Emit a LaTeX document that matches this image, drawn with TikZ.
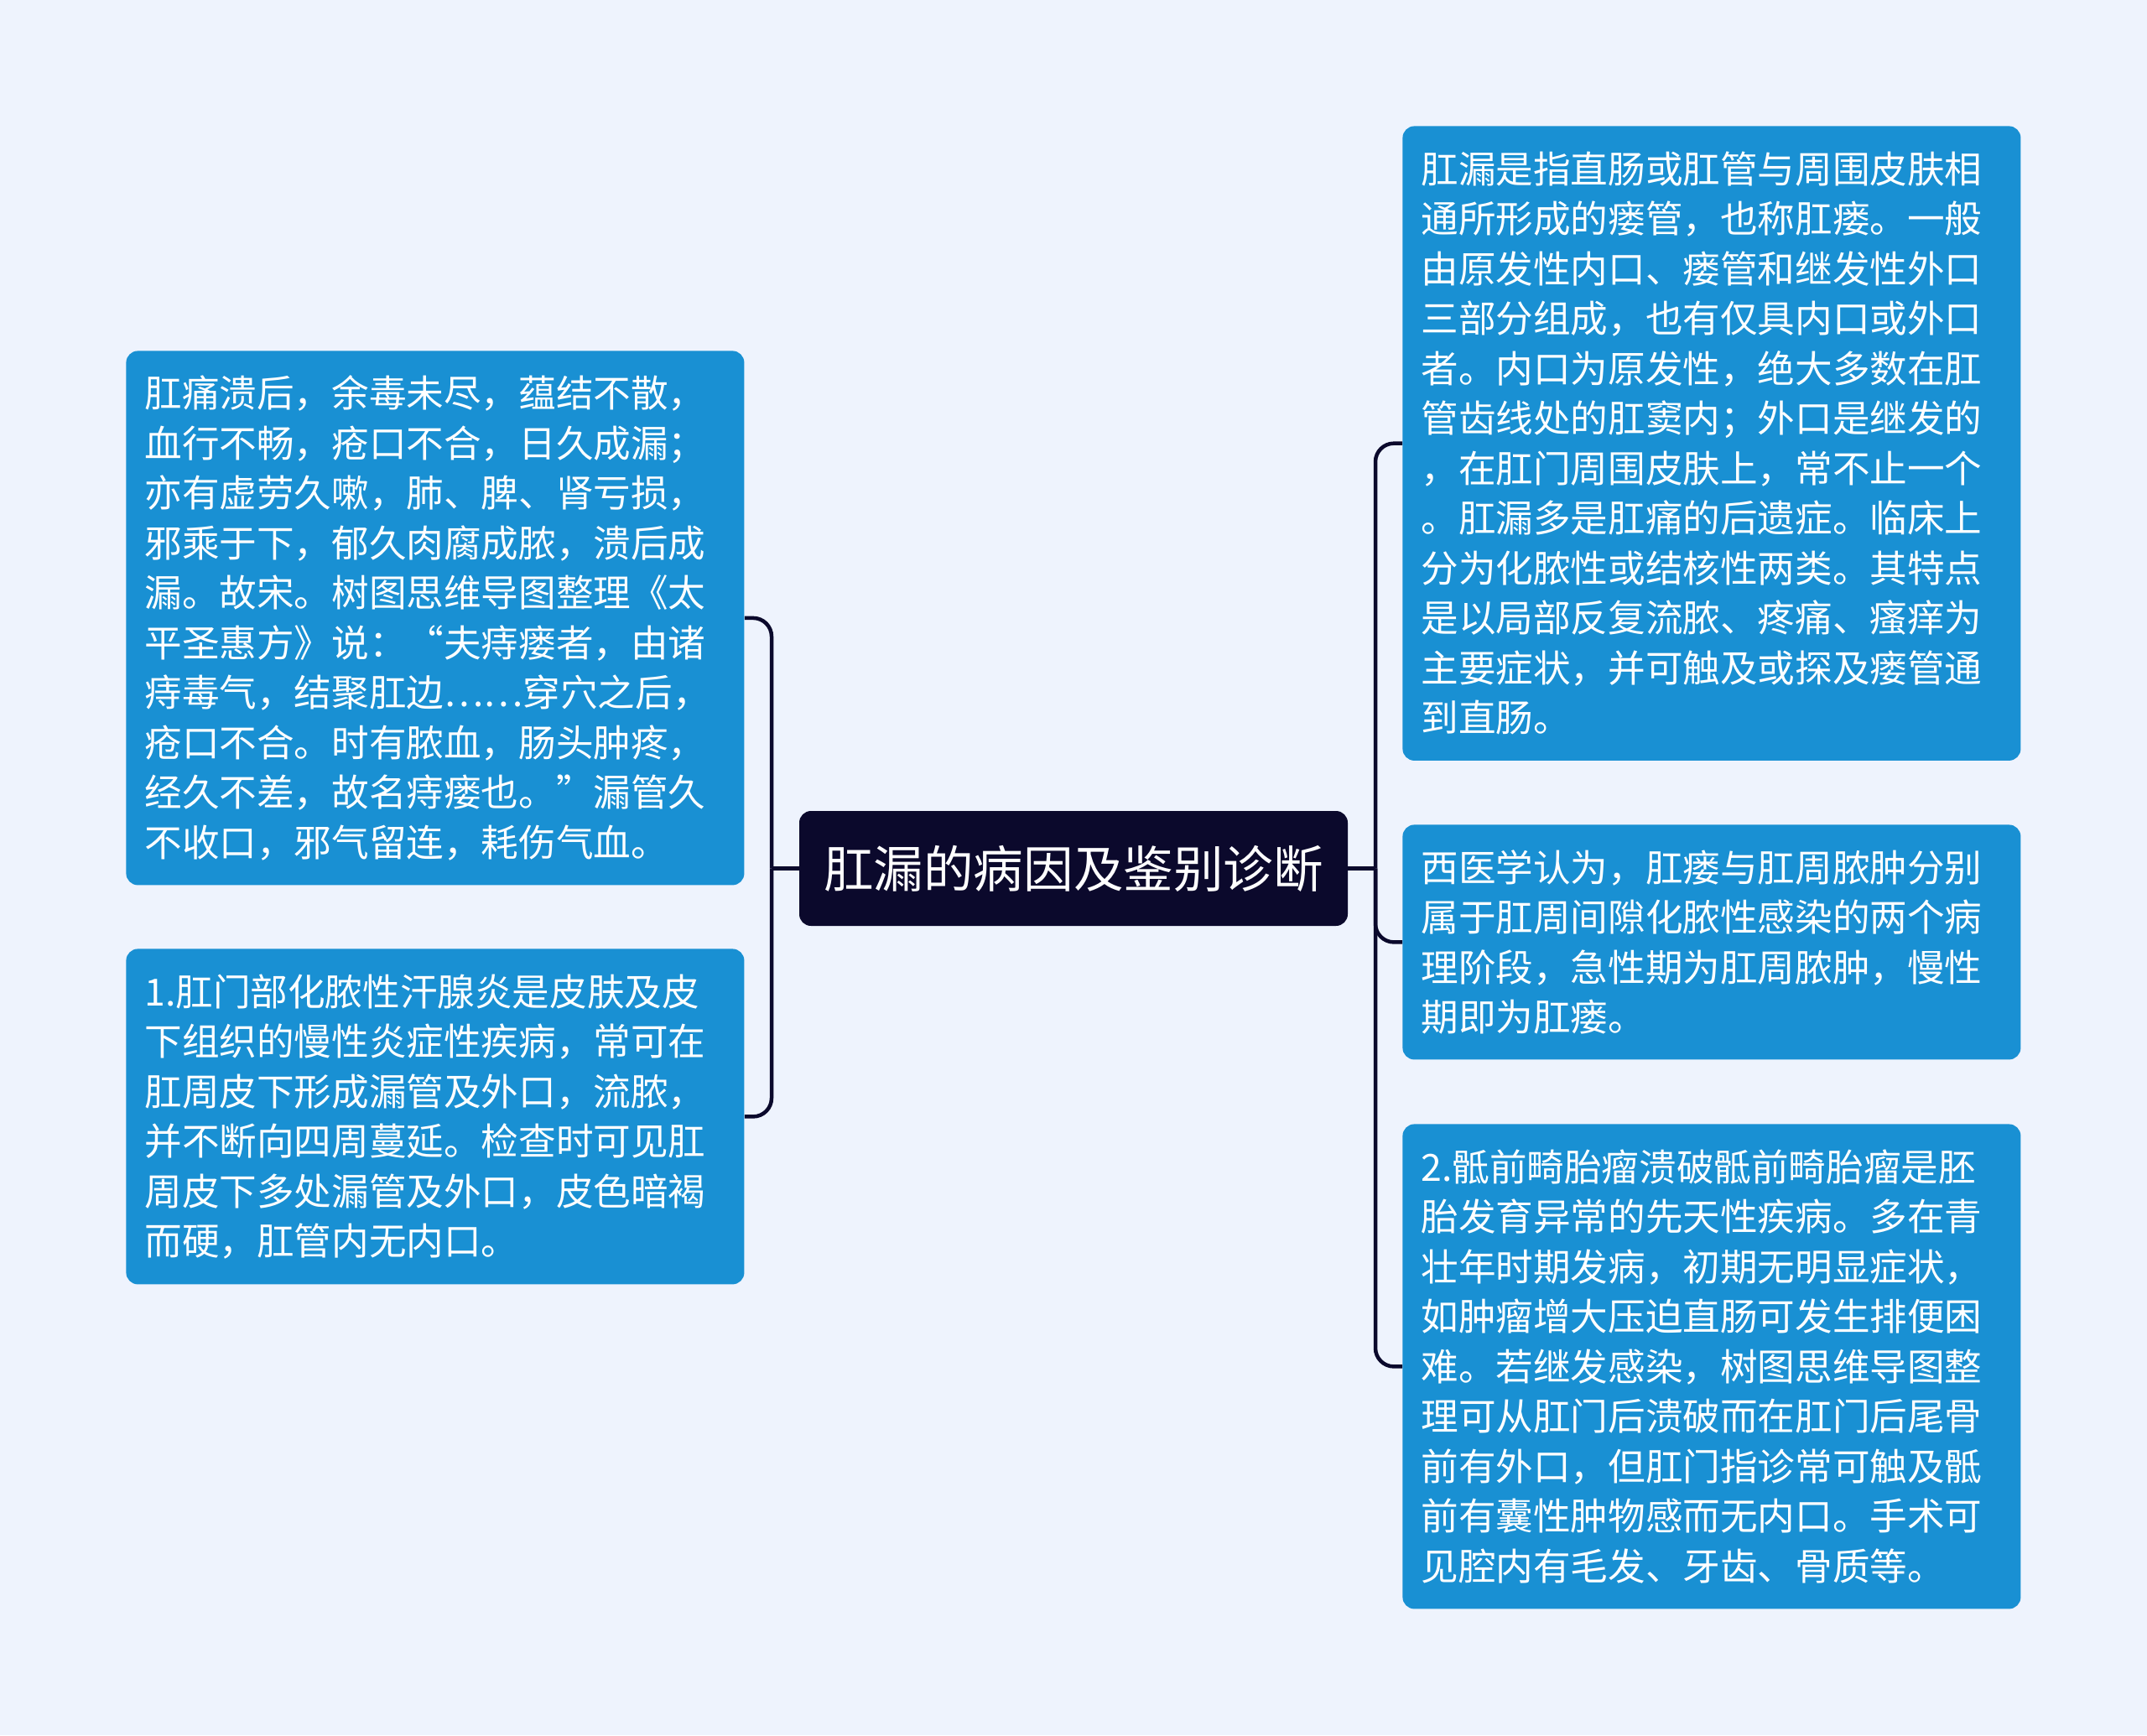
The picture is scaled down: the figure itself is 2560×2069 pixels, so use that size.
\documentclass[tikz,border=0pt]{standalone}
\usepackage{fontspec}
\newfontfamily\cjk{Noto Sans CJK SC}
\definecolor{bg}{RGB}{238,243,253}
\definecolor{boxblue}{RGB}{25,144,211}
\definecolor{navy}{RGB}{11,9,44}
\newcommand{\oq}{\makebox[1em][r]{“}}
\newcommand{\cq}{\makebox[1em][l]{”}}
\tikzset{
  leaf/.style={fill=boxblue, rounded corners=7pt, text=white,
    font=\cjk\fontsize{22.3pt}{29.75pt}\selectfont, align=left,
    text width=346.5pt, inner xsep=11pt, inner ysep=0pt, anchor=north west},
  rootbox/.style={fill=navy, rounded corners=7pt, text=white,
    font=\cjk\fontsize{29.8pt}{36pt}\selectfont, inner sep=0pt,
    minimum width=327pt, minimum height=68.5pt},
  conn/.style={draw=navy, line width=2.25pt, rounded corners=11pt}
}
\begin{document}
\begin{tikzpicture}[x=0.5pt,y=-0.5pt]
\fill[bg] (0,0) rectangle (2560,2069);
\useasboundingbox (0,0) rectangle (2560,2069);

\node[rootbox] (root) at (1280,1035.5) {肛漏的病因及鉴别诊断};

\node[leaf, minimum height=318.5pt] (lt) at (150,418) {肛痛溃后，余毒未尽，蕴结不散，\\
血行不畅，疮口不合，日久成漏；\\
亦有虚劳久嗽，肺、脾、肾亏损，\\
邪乘于下，郁久肉腐成脓，溃后成\\
漏。故宋。树图思维导图整理《太\\
平圣惠方》说：\oq 夫痔瘘者，由诸\\
痔毒气，结聚肛边……穿穴之后，\\
疮口不合。时有脓血，肠头肿疼，\\
经久不差，故名痔瘘也。\cq 漏管久\\
不收口，邪气留连，耗伤气血。};

\node[leaf, minimum height=200pt] (lb) at (150,1131) {1.肛门部化脓性汗腺炎是皮肤及皮\\
下组织的慢性炎症性疾病，常可在\\
肛周皮下形成漏管及外口，流脓，\\
并不断向四周蔓延。检查时可见肛\\
周皮下多处漏管及外口，皮色暗褐\\
而硬，肛管内无内口。};

\node[leaf, minimum height=378.25pt] (rt) at (1672,150) {肛漏是指直肠或肛管与周围皮肤相\\
通所形成的瘘管，也称肛瘘。一般\\
由原发性内口、瘘管和继发性外口\\
三部分组成，也有仅具内口或外口\\
者。内口为原发性，绝大多数在肛\\
管齿线处的肛窦内；外口是继发的\\
，在肛门周围皮肤上，常不止一个\\
。肛漏多是肛痛的后遗症。临床上\\
分为化脓性或结核性两类。其特点\\
是以局部反复流脓、疼痛、瘙痒为\\
主要症状，并可触及或探及瘘管通\\
到直肠。};

\node[leaf, minimum height=140pt] (rm) at (1672,983) {西医学认为，肛瘘与肛周脓肿分别\\
属于肛周间隙化脓性感染的两个病\\
理阶段，急性期为肛周脓肿，慢性\\
期即为肛瘘。};

\node[leaf, minimum height=289pt] (rb) at (1672,1340) {2.骶前畸胎瘤溃破骶前畸胎瘤是胚\\
胎发育异常的先天性疾病。多在青\\
壮年时期发病，初期无明显症状，\\
如肿瘤增大压迫直肠可发生排便困\\
难。若继发感染，树图思维导图整\\
理可从肛门后溃破而在肛门后尾骨\\
前有外口，但肛门指诊常可触及骶\\
前有囊性肿物感而无内口。手术可\\
见腔内有毛发、牙齿、骨质等。};

\coordinate (jl) at (920,1035.5);
\coordinate (jr) at (1640,1035.5);

\draw[conn] (root.west) -- (jl);
\draw[conn] (jl) |- (lt.east);
\draw[conn] (jl) |- (lb.east);
\draw[conn] (root.east) -- (jr);
\draw[conn] (jr) |- (rt.west);
\draw[conn] (jr) |- (rm.west);
\draw[conn] (jr) |- (rb.west);
\end{tikzpicture}
\end{document}
